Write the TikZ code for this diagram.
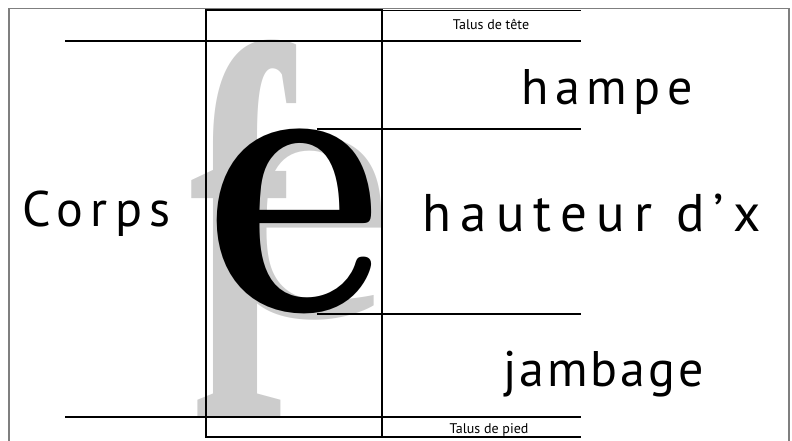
\documentclass[tikz,border=0pt]{standalone}
\usepackage{fontspec}
\newfontfamily\labelfont{PT Sans}
\newfontfamily\smallfont{PT Sans}
\newfontfamily\glyphfont{Liberation Serif}
\definecolor{glyphgray}{HTML}{CCCCCC}
\definecolor{framegray}{HTML}{7F7F7F}
\begin{document}
\begin{tikzpicture}[x=1pt,y=-1pt,
  rule/.style={line width=1.3pt, black},
  bodybox/.style={draw, line width=2pt},
  frameline/.style={draw=framegray, line width=1.2pt},
  biglabel/.style={font=\labelfont\fontsize{50}{60}\selectfont, inner sep=0pt, anchor=base west},
  smalllabel/.style={font=\smallfont\fontsize{14}{16}\selectfont, inner sep=0pt, anchor=base},
  glyph/.style={inner sep=0pt, anchor=base west}]
\useasboundingbox (0,0) rectangle (792,441);
% outer frame
\draw[frameline] (9,441) -- (9,8.5) -- (789,8.5) -- (789,441);
% glyphs
\node[glyph] (bigf) at (189,417) {\resizebox{104pt}{377pt}{\glyphfont\bfseries\color{glyphgray}f}};
\node[glyph] (shadowe) at (215,316) {\resizebox{180pt}{180pt}{\glyphfont\color{glyphgray}e}};
\node[glyph] (bige) at (206,311) {\resizebox{176pt}{182pt}{\rmfamily\bfseries e}};
% body box and guide lines
\draw[bodybox] (206,10.5) rectangle (382,437);
\draw[rule] (382,10.5) -- (581,10.5);
\draw[rule] (65,41) -- (581,41);
\draw[rule] (317,129) -- (581,129);
\draw[rule] (317,314) -- (581,314);
\draw[rule] (65,417) -- (581,417);
\draw[rule] (382,437) -- (581,437);
% labels
\node[smalllabel] (taluste) at (491,30) {Talus de tête};
\node[biglabel] (hampe) at (521,104.5) {\addfontfeature{LetterSpace=13}hampe};
\node[biglabel] (corps) at (22,226) {\addfontfeature{LetterSpace=15}Corps};
\node[biglabel, font=\labelfont\fontsize{53}{60}\selectfont] (hauteur) at (422,231) {\addfontfeature{LetterSpace=17.5}hauteur d’x};
\node[biglabel] (jambage) at (503,386.5) {\addfontfeature{LetterSpace=6}jambage};
\node[smalllabel] (talusp) at (489,433) {Talus de pied};
\end{tikzpicture}
\end{document}
